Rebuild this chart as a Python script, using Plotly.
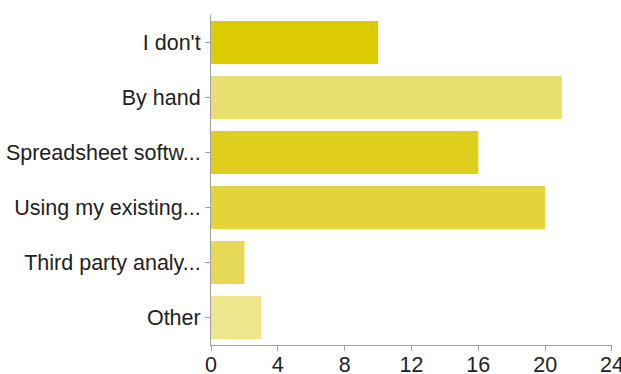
import plotly.graph_objects as go

categories = ["I don't", "By hand", "Spreadsheet softw...", "Using my existing...", "Third party analy...", "Other"]
values = [10, 21, 16, 20, 2, 3]
colors = ["#DCCB00", "#E9DF70", "#DFCE1E", "#E3D43B", "#E5D857", "#EEE68D"]
x_ticks = [0, 4, 8, 12, 16, 20, 24]

fig = go.Figure(go.Bar(
    x=values, y=categories, orientation="h",
    marker=dict(color=colors, line=dict(width=0)),
    hoverinfo="x+y",
))

axis_font = dict(family="Liberation Sans, Arial, sans-serif", size=21.5, color="#222222")

fig.update_layout(
    width=621, height=374,
    margin=dict(l=211, r=9, t=15, b=29, autoexpand=False),
    paper_bgcolor="white", plot_bgcolor="white",
    bargap=0.22,
    showlegend=False,
    xaxis=dict(
        range=[0, 24.002], tickvals=x_ticks, ticktext=[str(v) for v in x_ticks],
        showgrid=False, zeroline=False, automargin=False,
        showline=True, linecolor="#A0A0A0", linewidth=1,
        ticks="outside", ticklen=5, tickcolor="#A0A0A0",
        ticklabelstandoff=-5, ticklabeloverflow="allow",
        tickfont=axis_font, fixedrange=True,
    ),
    yaxis=dict(
        categoryorder="array", categoryarray=categories, autorange="reversed",
        showgrid=False, zeroline=False, automargin=False,
        showline=True, linecolor="#A0A0A0", linewidth=1,
        ticks="outside", ticklen=5, tickcolor="#A0A0A0",
        tickfont=axis_font, fixedrange=True,
    ),
)

fig.write_html(
    "out.html",
    config={"displayModeBar": False},
    post_script="document.body.style.margin='0';document.body.style.overflow='hidden';",
)
